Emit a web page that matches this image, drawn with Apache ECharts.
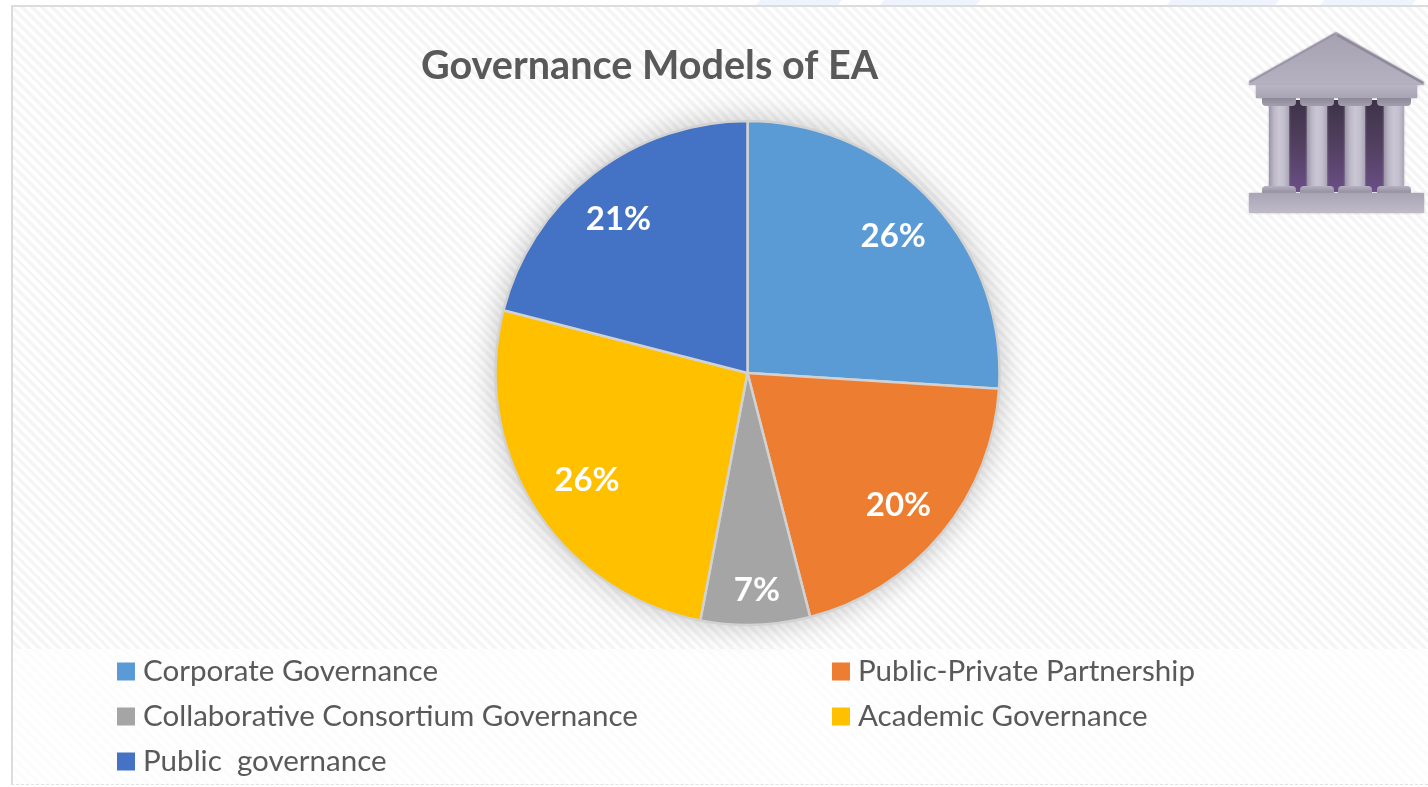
<!DOCTYPE html>
<html>
<head>
<meta charset="utf-8">
<style>
  html, body { margin: 0; padding: 0; width: 1428px; height: 787px; overflow: hidden; background: #fff; }
  #panel { position: absolute; left: 11px; top: 5px; width: 1417px; height: 644px; box-sizing: border-box;
    border-left: 2px solid #dcdcdc; border-top: 2px solid #dcdcdc;
    background: repeating-linear-gradient(45deg, #fff 0 3.5px, #f5f5f5 3.5px 7px); }
  #lower { position: absolute; left: 11px; top: 649px; width: 1417px; height: 136px; box-sizing: border-box;
    border-left: 2px solid #dcdcdc; border-bottom: 1px dashed #e2e2e2;
    background: repeating-linear-gradient(45deg, #fff 0 3.5px, #fcfcfc 3.5px 7px); }
  .band { position: absolute; top: 0; height: 5px; background: #eef3fd; transform: skewX(-40deg); }
  #chart { position: absolute; left: 0; top: 0; width: 1428px; height: 787px; }
</style>
<script src="https://cdn.jsdelivr.net/npm/echarts@6/dist/echarts.min.js"></script>
</head>
<body>
<div class="band" style="left:758px;width:82px"></div>
<div class="band" style="left:882px;width:96px"></div>
<div class="band" style="left:1169px;width:108px"></div>
<div class="band" style="left:1322px;width:92px"></div>
<div id="panel"></div>
<div id="lower"></div>
<div id="chart"></div>
<script>
const chartTitle = 'Governance Models of EA';
const categories = ['Corporate Governance', 'Public-Private Partnership', 'Collaborative Consortium Governance', 'Academic Governance', 'Public  governance'];
const shares = [26, 20, 7, 26, 21];
const colors = ['#5B9BD5', '#ED7D31', '#A5A5A5', '#FFC000', '#4472C4'];
const leftLegend = [categories[0], categories[2], categories[4]];
const rightLegend = [categories[1], categories[3]];

const pieCenter = [747.5, 373];
const pieRadius = 252;

// Moves a percentage outward from the mid-radius; narrow slices go further out
const labelPush = index => (shares[index] < 10 ? 0.7 : 0.41);

const legendBase = {
  orient: 'vertical', icon: 'rect', itemWidth: 18, itemHeight: 18, itemGap: 12, padding: 0, height: 135,
  itemStyle: { borderWidth: 0, shadowBlur: 0 },
  textStyle: { fontFamily: 'Lato', fontSize: 29.55, color: '#595959', padding: [0, 0, 0, 3], lineHeight: 33 },
  selectedMode: false
};

// Classical temple emblem, top right of the panel
function lg(stops, x2, y2) {
  return { type: 'linear', x: 0, y: 0, x2: x2, y2: y2,
    colorStops: stops.map((c, i) => ({ offset: i / (stops.length - 1), color: c })) };
}
const soft = c => ({ shadowBlur: 2, shadowColor: c });
const columnFill = lg(['#9b96a7', '#bdb8c7', '#cbc6d4', '#c4bfce', '#aaa5b5'], 1, 0);
const templeParts = [
  { type: 'rect', shape: { x: 1289, y: 100, width: 96, height: 92 }, style: { fill: lg(['#3d3248', '#524060', '#6a4f87'], 0, 1) } },
  { type: 'polygon', shape: { points: [[1249, 81], [1336, 32], [1424, 82], [1424, 85], [1249, 85]] },
    style: Object.assign({ fill: lg(['#a6a1b1', '#b6b1c0'], 0, 1) }, soft('#a6a1b1')) },
  { type: 'polyline', shape: { points: [[1337, 35], [1423, 83]] }, style: { stroke: '#8f8a9b', lineWidth: 2.5, fill: null } },
  { type: 'polyline', shape: { points: [[1250, 82], [1335, 34]] }, style: { stroke: '#9a95a6', lineWidth: 1.5, fill: null } },
  { type: 'rect', shape: { x: 1256, y: 85, width: 161, height: 13 },
    style: Object.assign({ fill: lg(['#bab5c4', '#a9a4b4'], 0, 1) }, soft('#a9a4b4')) }
];
[1269, 1307, 1345, 1384].forEach(x => {
  templeParts.push(
    { type: 'rect', shape: { x: x, y: 104, width: 20, height: 84 }, style: Object.assign({ fill: columnFill }, soft('#a9a4b4')) },
    { type: 'rect', shape: { x: x - 7, y: 98, width: 34, height: 8, r: [0, 0, 4, 4] }, style: { fill: lg(['#8e8999', '#a39eae'], 0, 1) } },
    { type: 'rect', shape: { x: x - 7, y: 186, width: 34, height: 7, r: [4, 4, 0, 0] }, style: { fill: lg(['#b6b1c0', '#928d9e'], 0, 1) } }
  );
});
templeParts.push({ type: 'rect', shape: { x: 1249, y: 193, width: 175, height: 20, r: 1 },
  style: Object.assign({ fill: lg(['#aaa5b5', '#bfbac8'], 0, 1) }, soft('#aaa5b5')) });

// Soft drop shadow lying under the whole pie
const pieShadow = {
  type: 'circle', z: -1, silent: true,
  shape: { cx: pieCenter[0], cy: pieCenter[1], r: pieRadius - 1 },
  style: { fill: '#d2d2d2', shadowBlur: 32, shadowColor: 'rgba(0,0,0,0.26)' }
};

const chart = echarts.init(document.getElementById('chart'), null, { renderer: 'canvas' });
chart.setOption({
  animation: false,
  backgroundColor: 'transparent',
  title: { text: chartTitle, left: 416, top: 41, padding: 5,
    textStyle: { fontFamily: 'Lato', fontSize: 39.6, fontWeight: 'bold', color: '#595959' } },
  legend: [
    Object.assign({}, legendBase, { left: 117, top: 655, data: leftLegend }),
    Object.assign({}, legendBase, { left: 832, top: 655, data: rightLegend })
  ],
  graphic: { elements: [pieShadow, { type: 'group', silent: true, children: templeParts }] },
  series: [{
    type: 'pie',
    center: pieCenter,
    radius: [0, pieRadius],
    startAngle: 90,
    clockwise: true,
    color: colors,
    data: categories.map((name, i) => ({ name: name, value: shares[i] })),
    itemStyle: { borderColor: '#d2d2d2', borderWidth: 2.5 },
    label: { show: true, position: 'inside', formatter: p => p.value + '%',
      fontFamily: 'Lato', fontSize: 33, fontWeight: 'bold', color: '#fff',
      textBorderWidth: 0, textShadowBlur: 0 },
    labelLayout: p => ({
      dx: (p.rect.x + p.rect.width / 2 - pieCenter[0]) * labelPush(p.dataIndex),
      dy: (p.rect.y + p.rect.height / 2 - pieCenter[1]) * labelPush(p.dataIndex)
    }),
    labelLine: { show: false },
    emphasis: { disabled: true }
  }]
});
</script>
</body>
</html>
